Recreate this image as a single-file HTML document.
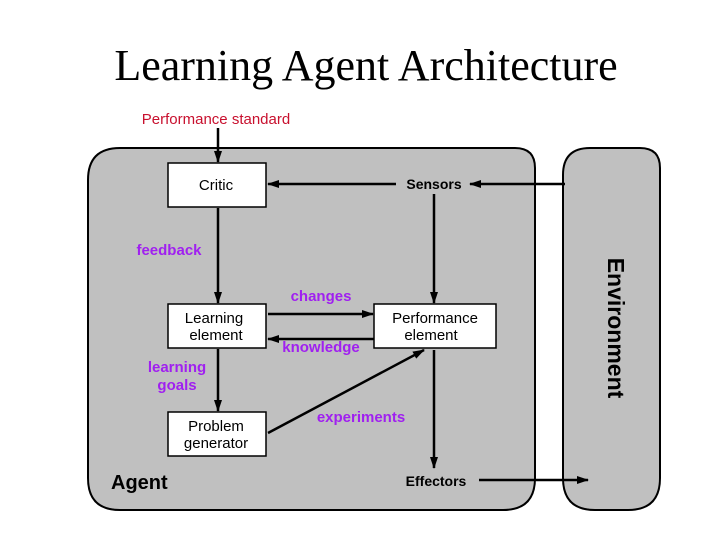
<!DOCTYPE html>
<html><head><style>
body{margin:0;width:720px;height:540px;background:#fff;overflow:hidden}
</style></head><body>
<svg width="720" height="540" xmlns="http://www.w3.org/2000/svg">
<defs><marker id="a" markerWidth="12" markerHeight="8" refX="11" refY="4" orient="auto" markerUnits="userSpaceOnUse"><path d="M0,0 L12,4 L0,8 z" fill="#000"/></marker></defs>
<text x="366" y="80" font-family="Liberation Serif" font-size="44" text-anchor="middle">Learning Agent Architecture</text>
<path d="M120,148 H515 Q535,148 535,168 V478 Q535,510 503,510 H120 Q88,510 88,478 V180 Q88,148 120,148 Z" fill="#c0c0c0" stroke="#000" stroke-width="2"/>
<path d="M590,148 H640 Q660,148 660,168 V478 Q660,510 628,510 H595 Q563,510 563,478 V175 Q563,148 590,148 Z" fill="#c0c0c0" stroke="#000" stroke-width="2"/>
<g fill="#fff" stroke="#000" stroke-width="1.5">
<rect x="168" y="163" width="98" height="44"/>
<rect x="168" y="304" width="98" height="44"/>
<rect x="374" y="304" width="122" height="44"/>
<rect x="168" y="412" width="98" height="44"/>
</g>
<g stroke="#000" stroke-width="2.5" fill="none" marker-end="url(#a)">
<line x1="218" y1="128" x2="218" y2="162"/>
<line x1="218" y1="208" x2="218" y2="303"/>
<line x1="218" y1="349" x2="218" y2="411"/>
<line x1="565" y1="184" x2="470" y2="184"/>
<line x1="396" y1="184" x2="268" y2="184"/>
<line x1="434" y1="194" x2="434" y2="303"/>
<line x1="434" y1="350" x2="434" y2="468"/>
<line x1="479" y1="480" x2="588" y2="480"/>
<line x1="268" y1="314" x2="373" y2="314"/>
<line x1="374" y1="339" x2="268" y2="339"/>
<line x1="268" y1="433" x2="424" y2="350"/>
</g>
<g font-family="Liberation Sans" font-size="15" text-anchor="middle">
<text x="216" y="190">Critic</text>
<text x="214" y="323">Learning</text><text x="216" y="340">element</text>
<text x="435" y="323">Performance</text><text x="431" y="340">element</text>
<text x="216" y="431">Problem</text><text x="216" y="448">generator</text>
<text x="216" y="124" fill="#c8102e">Performance standard</text>
</g>
<g font-family="Liberation Sans" font-size="15" font-weight="bold" fill="#a020f0" text-anchor="middle">
<text x="169" y="255">feedback</text>
<text x="321" y="301">changes</text>
<text x="321" y="352">knowledge</text>
<text x="177" y="372">learning</text><text x="177" y="390">goals</text>
<text x="361" y="422">experiments</text>
</g>
<g font-family="Liberation Sans" font-weight="bold" fill="#000">
<text x="434" y="189" font-size="14" text-anchor="middle">Sensors</text>
<text x="436" y="486" font-size="14" text-anchor="middle">Effectors</text>
<text x="111" y="489" font-size="20">Agent</text>
<text transform="translate(608,328) rotate(90)" font-size="23" text-anchor="middle">Environment</text>
</g>
</svg>
</body></html>
